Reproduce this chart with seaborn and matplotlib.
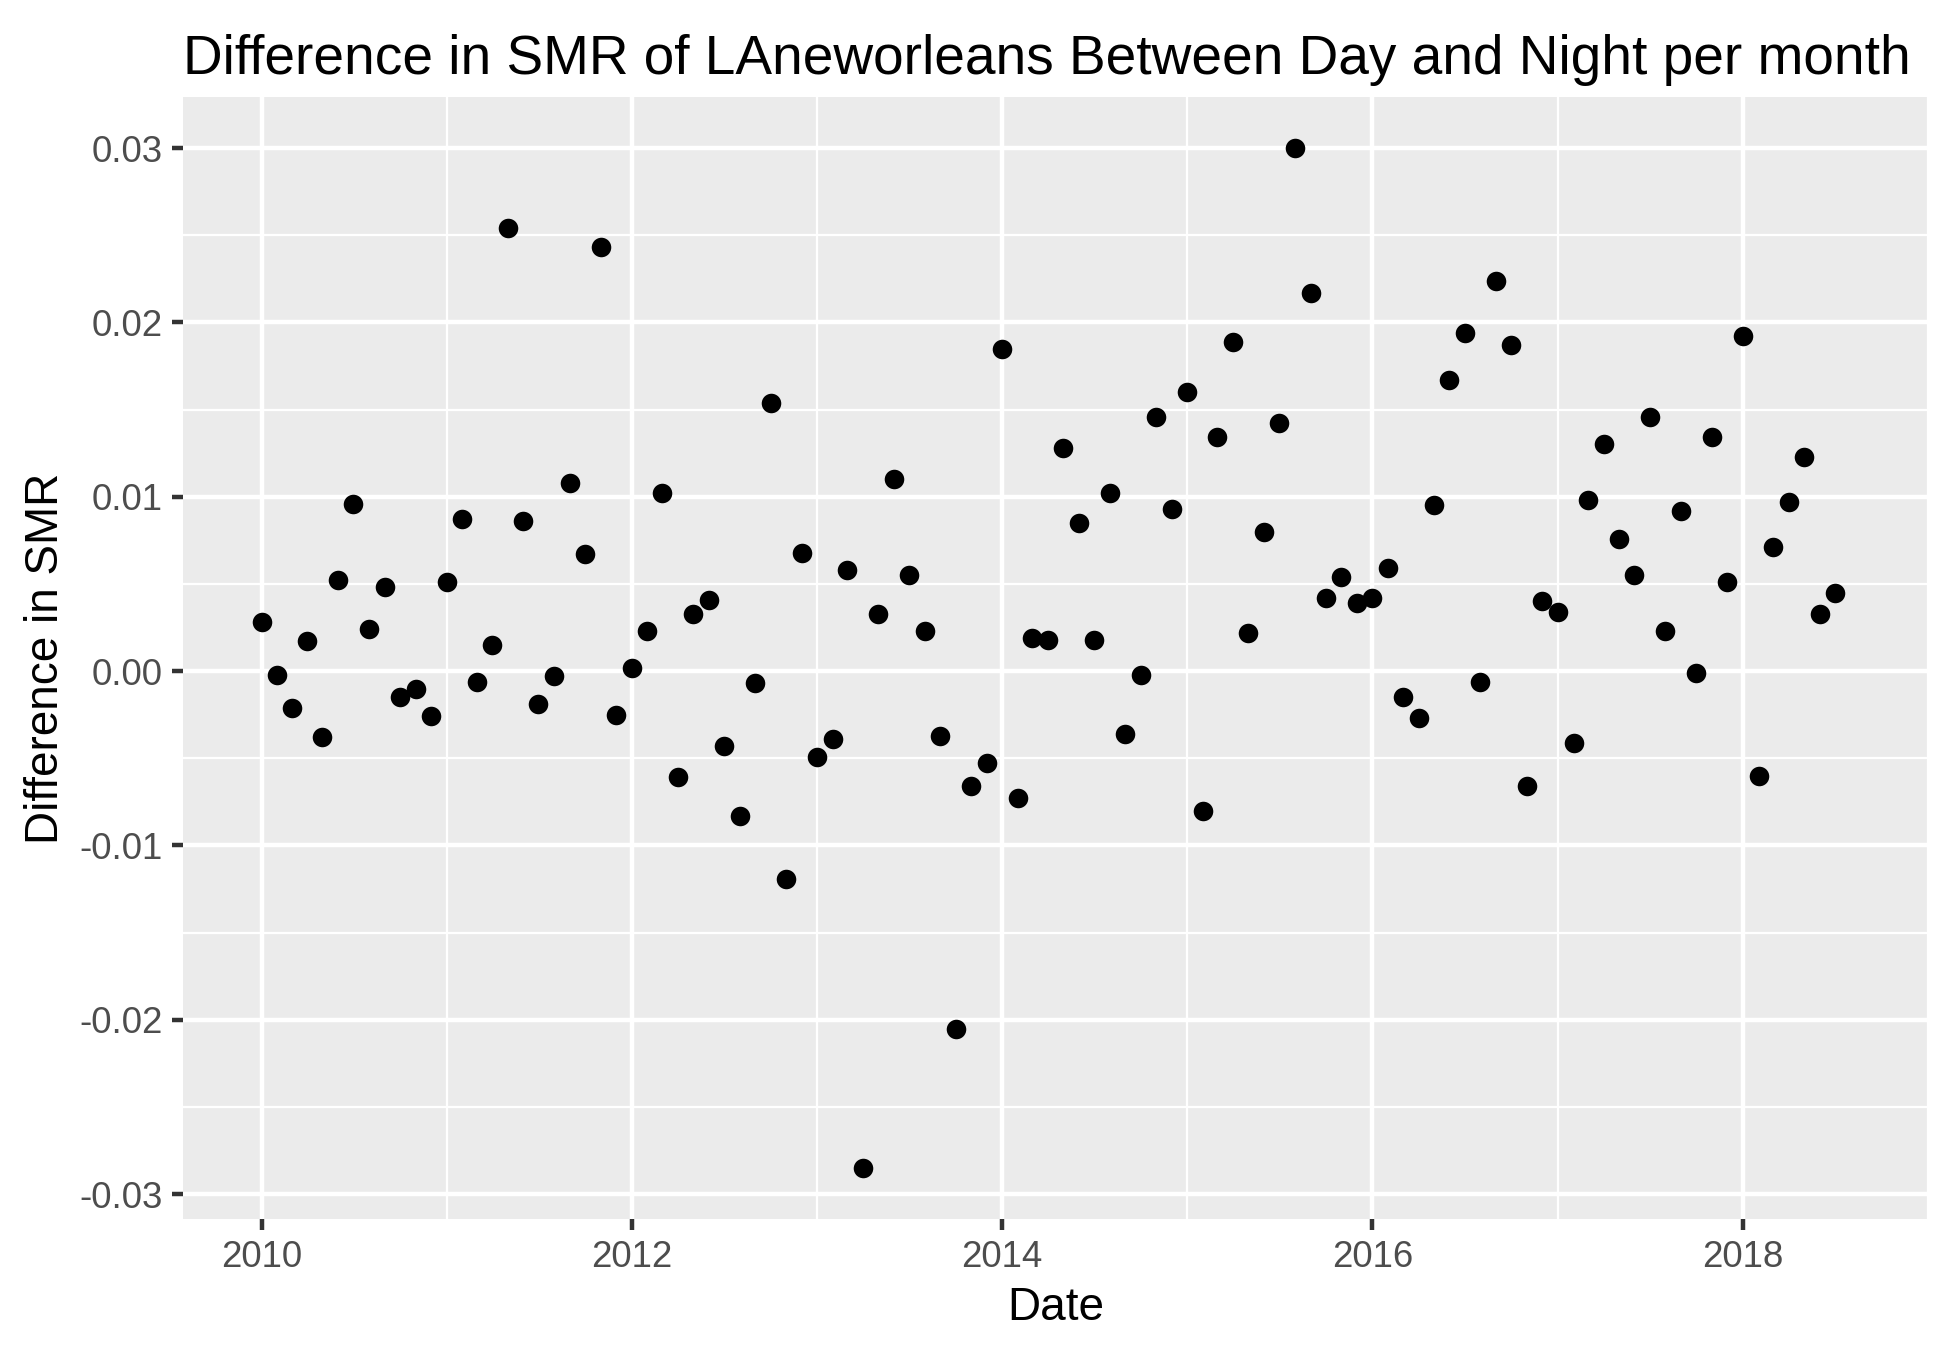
import numpy as np
import pandas as pd
import seaborn as sns
import matplotlib.pyplot as plt
import matplotlib.dates as mdates

# monthly difference in SMR (day - night), Jan 2010 .. Jul 2018
start_month = '2010-01-01'
smr_diff = [
    0.0028, -0.0002, -0.0021, 0.0017, -0.0038, 0.0052, 0.0096, 0.0024, 0.0048, -0.0015, -0.0010, -0.0026,
    0.0051, 0.0087, -0.0006, 0.0015, 0.0254, 0.0086, -0.0019, -0.0003, 0.0108, 0.0067, 0.0243, -0.0025,
    0.0002, 0.0023, 0.0102, -0.0061, 0.0033, 0.0041, -0.0043, -0.0083, -0.0007, 0.0154, -0.0119, 0.0068,
    -0.0049, -0.0039, 0.0058, -0.0285, 0.0033, 0.0110, 0.0055, 0.0023, -0.0037, -0.0205, -0.0066, -0.0053,
    0.0185, -0.0073, 0.0019, 0.0018, 0.0128, 0.0085, 0.0018, 0.0102, -0.0036, -0.0002, 0.0146, 0.0093,
    0.0160, -0.0080, 0.0134, 0.0189, 0.0022, 0.0080, 0.0142, 0.0300, 0.0217, 0.0042, 0.0054, 0.0039,
    0.0042, 0.0059, -0.0015, -0.0027, 0.0095, 0.0167, 0.0194, -0.0006, 0.0224, 0.0187, -0.0066, 0.0040,
    0.0034, -0.0041, 0.0098, 0.0130, 0.0076, 0.0055, 0.0146, 0.0023, 0.0092, -0.0001, 0.0134, 0.0051,
    0.0192, -0.0060, 0.0071, 0.0097, 0.0123, 0.0033, 0.0045,
]
y_ticks = [-0.03, -0.02, -0.01, 0.00, 0.01, 0.02, 0.03]
y_tick_labels = ['-0.03', '-0.02', '-0.01', '0.00', '0.01', '0.02', '0.03']
x_tick_years = [2010, 2012, 2014, 2016, 2018]

df = pd.DataFrame({
    'Date': pd.date_range(start_month, periods=len(smr_diff), freq='MS'),
    'diff': smr_diff,
})

plt.rcParams['font.family'] = ['Liberation Sans', 'DejaVu Sans']

fig = plt.figure(figsize=(6.5, 1349 / 300), dpi=300)
ax = fig.add_axes([183 / 1950, 1 - 1219 / 1349, 1745 / 1950, 1122 / 1349])
ax.set_facecolor('#EBEBEB')
for s in ax.spines.values():
    s.set_visible(False)

sns.scatterplot(data=df, x='Date', y='diff', ax=ax, color='black', s=22,
                linewidth=0, zorder=3)

# ggplot-like 5% expansion
xnum = mdates.date2num(df['Date'])
xr = xnum.max() - xnum.min()
ax.set_xlim(xnum.min() - 0.05 * xr, xnum.max() + 0.05 * xr)
yr = max(smr_diff) - min(smr_diff)
ax.set_ylim(min(smr_diff) - 0.05 * yr, max(smr_diff) + 0.05 * yr)

ax.set_xticks([mdates.date2num(pd.Timestamp(f'{y}-01-01')) for y in x_tick_years])
ax.set_xticklabels([str(y) for y in x_tick_years])
ax.set_xticks([mdates.date2num(pd.Timestamp(f'{y + 1}-01-01')) for y in x_tick_years], minor=True)
ax.set_yticks(y_ticks)
ax.set_yticklabels(y_tick_labels)
ax.set_yticks([-0.025, -0.015, -0.005, 0.005, 0.015, 0.025], minor=True)

ax.grid(which='major', color='white', linewidth=1.07, zorder=0)
ax.grid(which='minor', color='white', linewidth=0.53, zorder=0)
ax.set_axisbelow(True)
ax.tick_params(which='major', length=2.75, width=1.07, color='#333333',
               labelsize=8.8, labelcolor='#4D4D4D', pad=2.2)
ax.tick_params(which='minor', length=0)

ax.set_xlabel('Date', fontsize=11, labelpad=2.75)
ax.set_ylabel('Difference in SMR', fontsize=11, labelpad=2.75)
ax.set_title('Difference in SMR of LAneworleans Between Day and Night per month',
             loc='left', fontsize=13.2, pad=5.5)

fig.savefig('out.png', dpi=300)
